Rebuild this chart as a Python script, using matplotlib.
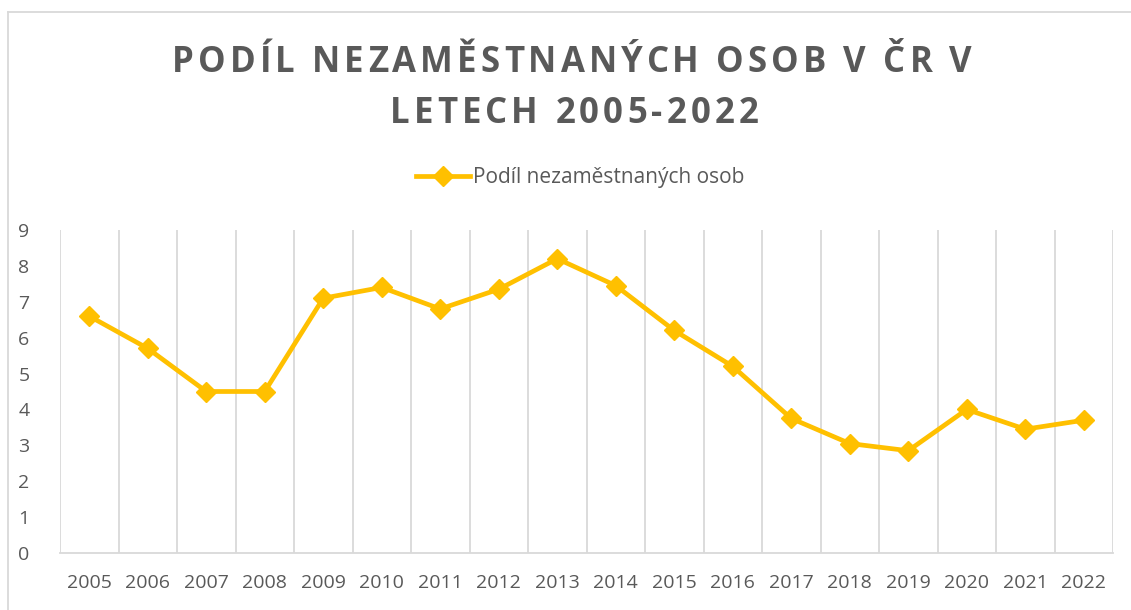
import matplotlib
matplotlib.use("Agg")
import matplotlib.pyplot as plt
from matplotlib.lines import Line2D
from matplotlib.font_manager import FontProperties

years = [str(y) for y in range(2005, 2023)]
values = [6.6, 5.7, 4.5, 4.5, 7.1, 7.4, 6.8, 7.35, 8.2, 7.45, 6.2, 5.2, 3.75, 3.05, 2.85, 4.0, 3.45, 3.7]
yticks = list(range(0, 10))
title_lines = ["PODÍL NEZAMĚSTNANÝCH OSOB V ČR V", "LETECH 2005-2022"]
series_name = "Podíl nezaměstnaných osob"

W, H = 1131, 610
fig = plt.figure(figsize=(W / 100, H / 100), dpi=100)
plt.rcParams['font.family'] = ['Open Sans', 'DejaVu Sans']
gray = "#595959"
grid = "#D9D9D9"
yellow = "#FFC000"

ax = fig.add_axes([60 / W, 1 - 553 / H, (1113 - 60) / W, (553 - 230) / H])
x = list(range(len(years)))
ax.plot(x, values, color=yellow, lw=3.4, marker="D", ms=10, mec=yellow, mfc=yellow,
        label=series_name, zorder=3, solid_joinstyle="round")
ax.set_xlim(-0.5, len(years) - 0.5)
ax.set_ylim(0, 9)
ax.set_yticks(yticks)
ax.set_yticklabels([str(t) for t in yticks], fontsize=14, color=gray)
ax.set_xticks(x)
ax.set_xticklabels(years, fontsize=14, color=gray)
ax.tick_params(axis="both", length=0)
ax.tick_params(axis="x", pad=15)
ax.tick_params(axis="y", pad=22)
for b in [i - 0.5 for i in range(len(years) + 1)]:
    ax.axvline(b, color=grid, lw=1.3, zorder=1)
for s in ["top", "right", "left"]:
    ax.spines[s].set_visible(False)
ax.spines["bottom"].set_color(grid)
ax.spines["bottom"].set_linewidth(1.3)

# Title with letter spacing, drawn per character
renderer = fig.canvas.get_renderer()
prop = FontProperties(family="Open Sans", weight="bold", size=25)


def textw(s):
    w, h, d = renderer.get_text_width_height_descent(s, prop, ismath=False)
    return w


def spaced_line(line, cx, baseline_px, spacing):
    ref = textw("I")
    offs = [textw(line[:i] + "I") - ref if i > 0 else 0.0 for i in range(len(line))]
    total = textw(line) + spacing * (len(line) - 1)
    x0 = cx - total / 2
    for i, ch in enumerate(line):
        if ch == " ":
            continue
        fig.text((x0 + offs[i] + spacing * i) / W, 1 - baseline_px / H, ch,
                 fontproperties=prop, color=gray, ha="left", va="baseline")


spaced_line(title_lines[0], 572, 72, 4.1)
spaced_line(title_lines[1], 574, 123, 4.1)

handle = Line2D([], [], color=yellow, lw=3.4, marker="D", ms=10)
fig.legend([handle], [series_name], loc="center", bbox_to_anchor=(580 / W, 1 - 178 / H),
           frameon=False, fontsize=15, labelcolor=gray, handlelength=2.6, handletextpad=0.15)

fig.add_artist(Line2D([8 / W, 1.0], [1 - 12 / H, 1 - 12 / H], color=grid, lw=1.3,
                      transform=fig.transFigure))
fig.add_artist(Line2D([8 / W, 8 / W], [0, 1 - 12 / H], color=grid, lw=1.3,
                      transform=fig.transFigure))

fig.savefig("out.png", dpi=100)
